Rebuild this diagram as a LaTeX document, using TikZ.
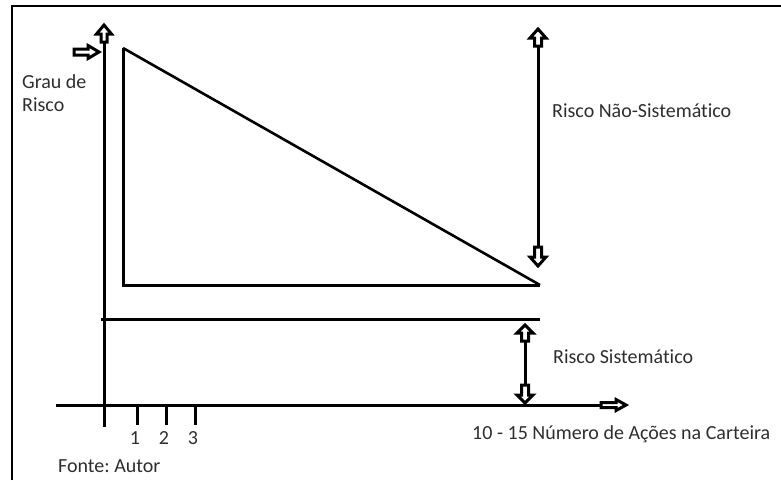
\documentclass[tikz,border=0pt]{standalone}
\usepackage{fontspec}
\setmainfont[Ligatures=NoCommon]{Carlito}
\frenchspacing
\begin{document}
\begin{tikzpicture}[x=1pt,y=-1pt,
  ax/.style={line width=3pt},
  lbl/.style={font=\fontsize{20}{24}\selectfont, text=black!82, inner sep=0pt, anchor=west},
  pics/barrow/.style n args={4}{code={\draw[line width=3pt, fill=white, line join=miter] (0,0) -- (-#2,#3) -- (-#2,#4) -- (-#1,#4) -- (-#1,-#4) -- (-#2,-#4) -- (-#2,-#3) -- cycle;}}]
\useasboundingbox (0,0) rectangle (781,480);
\draw[line width=2pt] (12,480) -- (12,6) -- (781,6);
% y axis
\coordinate (yb) at (104,427);
\coordinate (yt) at (104,25);
\coordinate (ys) at (104,38);
\draw[ax] (yb) -- (ys);
\pic[rotate=90] at (yt) {barrow={17}{9}{7.5}{3}};
% pointer to axis
\coordinate (pt) at (99,52);
\pic at (pt) {barrow={25}{11}{6.5}{3}};
% triangle
\coordinate (A) at (123,48);
\coordinate (B) at (123,285);
\coordinate (C) at (540,285);
\draw[ax] (A) -- (B) -- (C);
\draw[line width=2.6pt] (A) -- (C);
% systematic line
\coordinate (S1) at (101,319);
\coordinate (S2) at (540,319);
\draw[ax] (S1) -- (S2);
% unsystematic arrow
\coordinate (U1) at (538,29);
\coordinate (U2) at (538,266);
\coordinate (U1s) at (538,42);
\coordinate (U2s) at (538,253);
\draw[ax] (U1s) -- (U2s);
\pic[rotate=90] at (U1) {barrow={17}{9}{8}{3.5}};
\pic[rotate=-90] at (U2) {barrow={19}{9}{8}{3.5}};
% systematic arrow
\coordinate (V1) at (525,325);
\coordinate (V2) at (525,403);
\coordinate (V1s) at (525,336);
\coordinate (V2s) at (525,392);
\draw[ax] (V1s) -- (V2s);
\pic[rotate=90] at (V1) {barrow={16}{8}{8}{3.5}};
\pic[rotate=-90] at (V2) {barrow={18}{8}{8}{3.5}};
% x axis
\coordinate (xl) at (56,405);
\coordinate (xr) at (604,405);
\coordinate (xt) at (626,405);
\draw[ax] (xl) -- (xr);
\pic at (xt) {barrow={25}{10}{5.5}{2.5}};
% ticks
\foreach \n/\x in {1/137,2/166,3/195}{
  \coordinate (t\n a) at (\x,407);
  \coordinate (t\n b) at (\x,425);
  \draw[ax] (t\n a) -- (t\n b);
  \node[lbl, anchor=center] (l\n) at (\x-2,438) {\n};
}
% labels
\node[lbl] (g1) at (22,82) {Grau de};
\node[lbl] (g2) at (22,105) {Risco};
\node[lbl] (ns) at (552,111) {Risco Não-Sistemático};
\node[lbl] (s) at (553,357) {Risco Sistemático};
\node[lbl] (nx) at (472,434) {10 - 15 Número de Ações na Carteira};
\node[lbl] (f) at (58,466) {Fonte: Autor};
\end{tikzpicture}
\end{document}
